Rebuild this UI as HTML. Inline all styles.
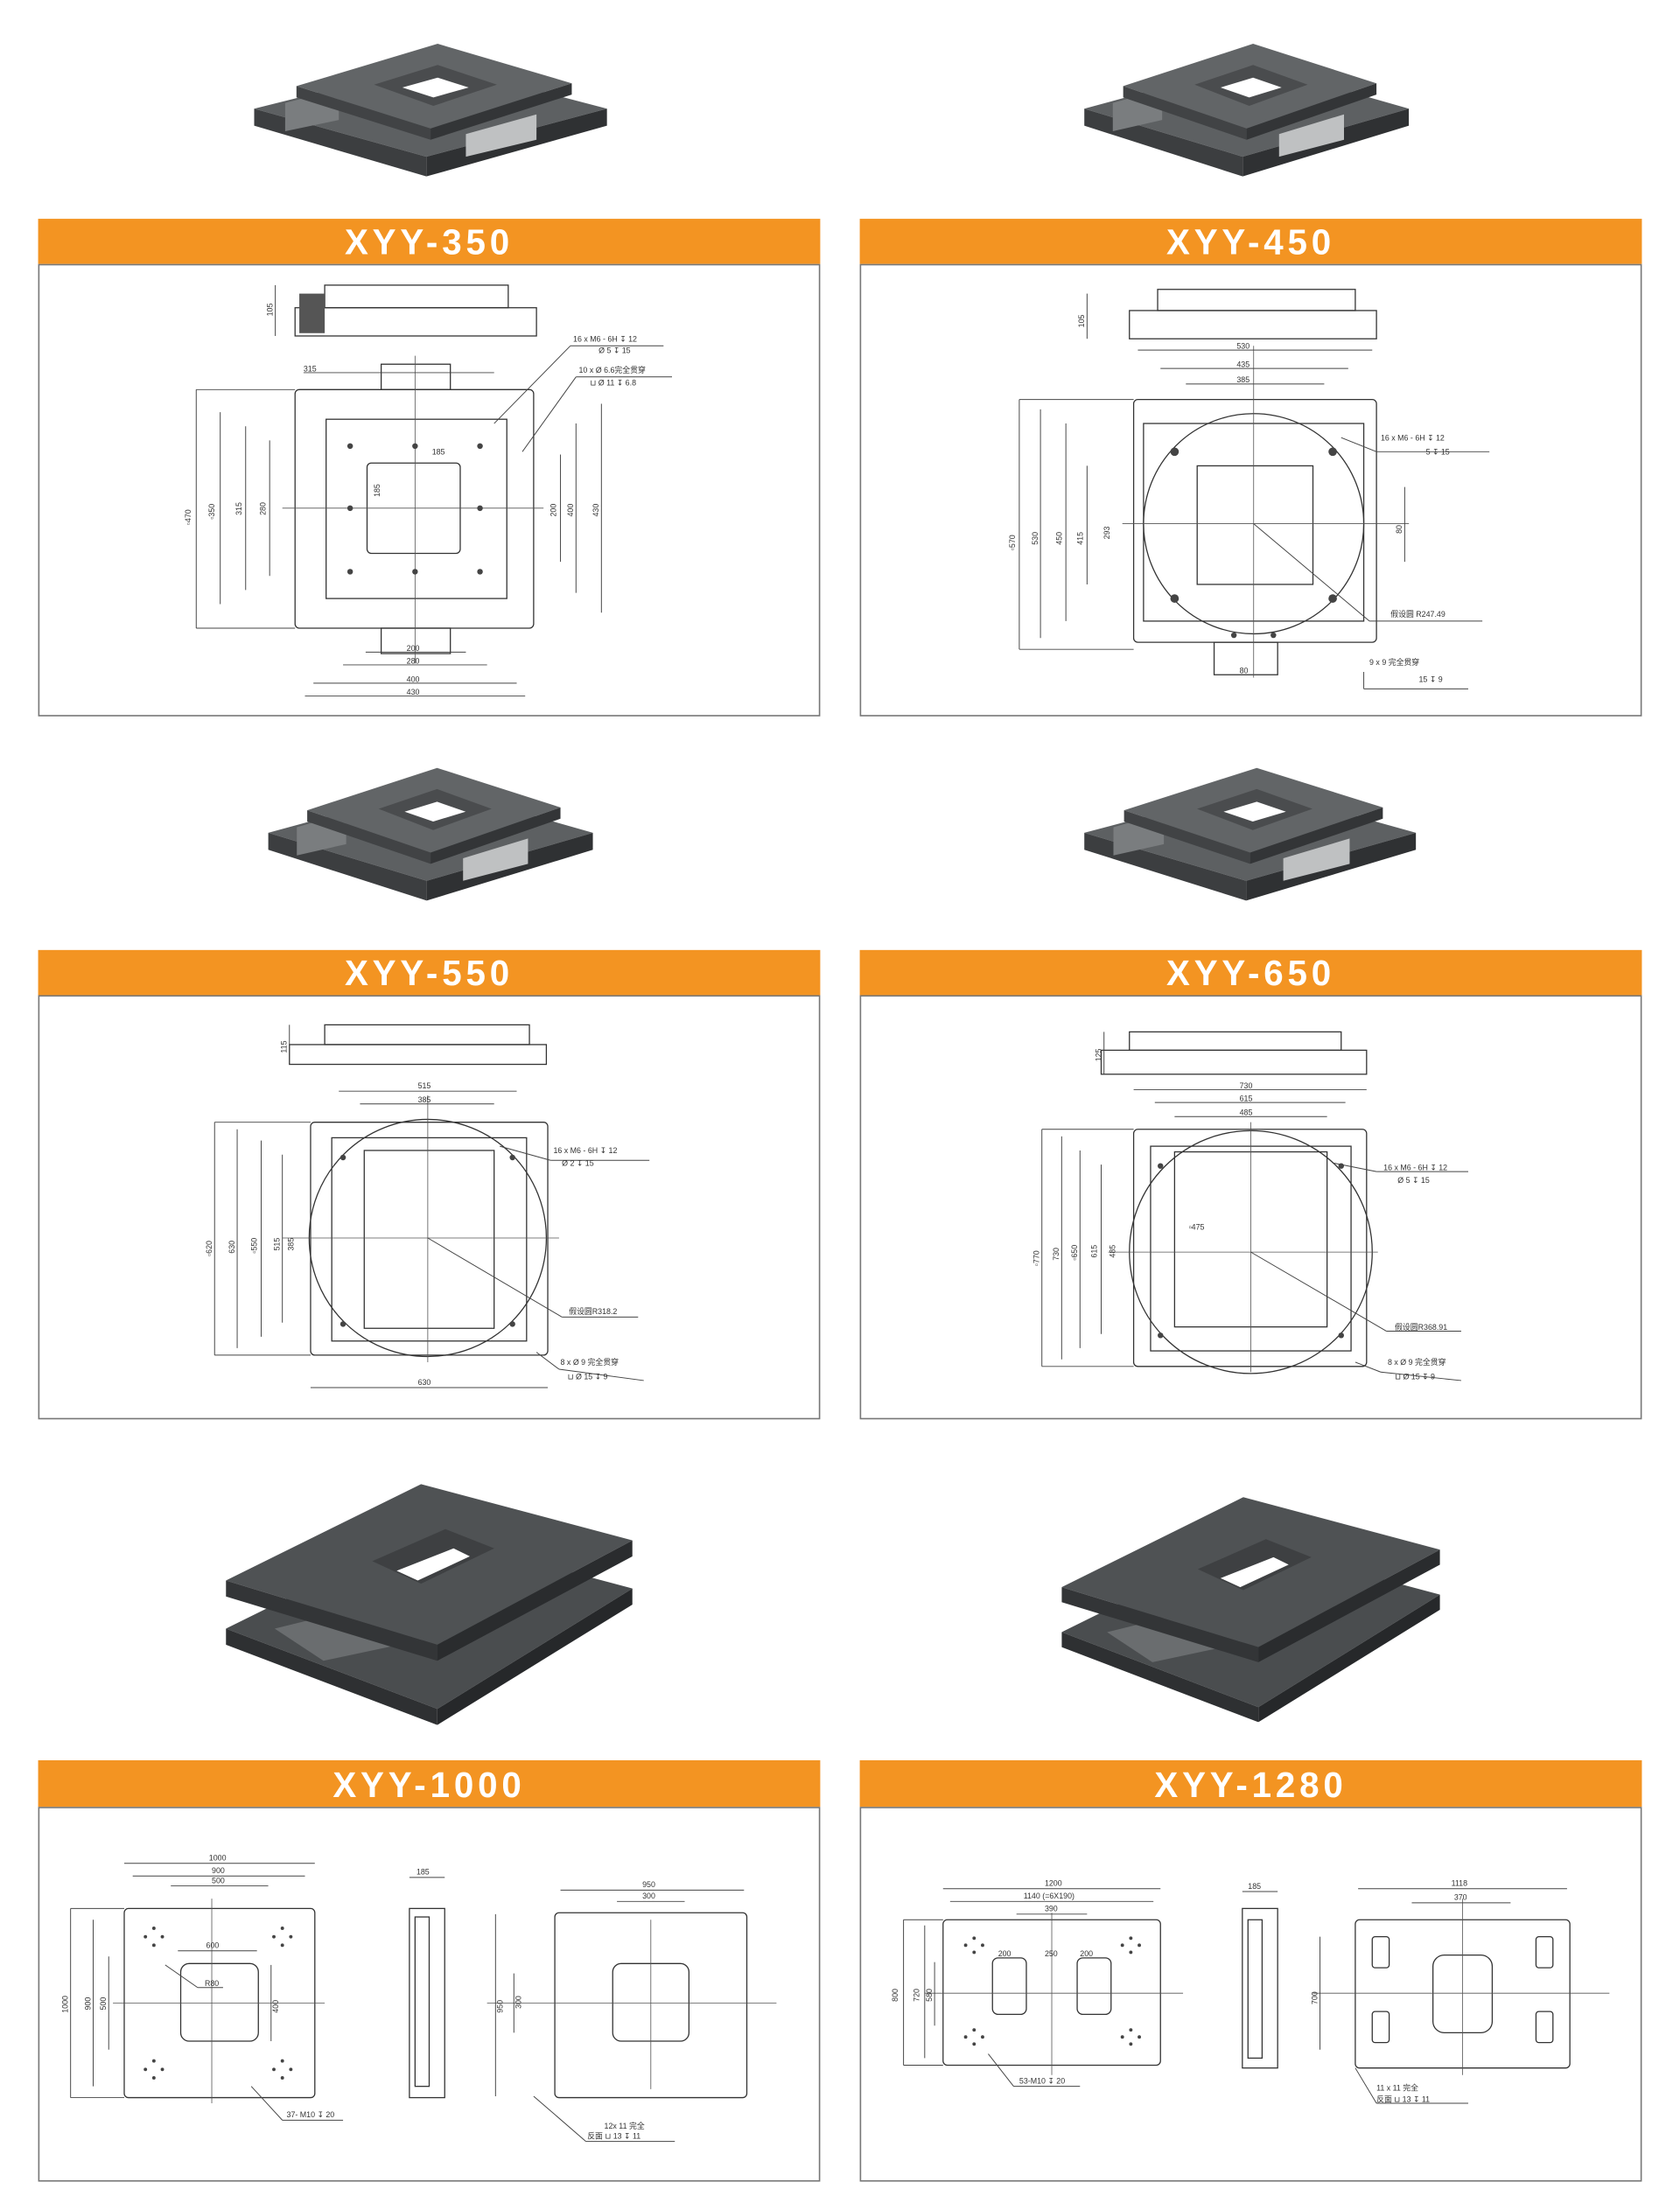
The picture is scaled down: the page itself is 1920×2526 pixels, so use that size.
<!DOCTYPE html>
<html><head><meta charset="utf-8"><style>
html,body{margin:0;padding:0;background:#fff}
svg{display:block}
text{font-family:"Liberation Sans","Noto Sans CJK SC",sans-serif}
.h{font-weight:bold;font-size:25px;fill:#fff;letter-spacing:3px;text-anchor:middle}
.t{font-size:5.5px;fill:#333}
.d{stroke:#444;stroke-width:0.6;fill:none}
.p{stroke:#333;stroke-width:0.8;fill:none}
.c{stroke:#555;stroke-width:0.5;fill:none}
</style></head><body>
<svg width="1920" height="2526" viewBox="0 0 1190 1565.6" xmlns="http://www.w3.org/2000/svg">
<defs>
<symbol id="prod" viewBox="0 0 250 120" preserveAspectRatio="none">
  <polygon points="0,62 128,30 250,62 122,96" fill="#5d6062"/>
  <polygon points="0,62 122,96 122,110 0,74" fill="#3c3e40"/>
  <polygon points="122,96 250,62 250,74 122,110" fill="#2f3133"/>
  <polygon points="22,58 60,48 60,70 22,78" fill="#7a7d7f"/>
  <polygon points="150,80 200,66 200,84 150,96" fill="#bfc1c2"/>
  <polygon points="30,46 130,16 225,44 125,76" fill="#626567"/>
  <polygon points="30,46 125,76 125,84 30,54" fill="#414345"/>
  <polygon points="125,76 225,44 225,52 125,84" fill="#333537"/>
  <polygon points="85,45 130,31 172,45 127,60" fill="#4a4c4e"/>
  <polygon points="105,47 130,40 152,47 127,54" fill="#ffffff"/>
</symbol>
<symbol id="prodb" viewBox="0 0 250 160" preserveAspectRatio="none">
  <polygon points="0,100 120,40 250,75 130,150" fill="#4a4d4f"/>
  <polygon points="0,100 130,150 130,160 0,110" fill="#2e3032"/>
  <polygon points="130,150 250,75 250,85 130,160" fill="#26282a"/>
  <polygon points="30,100 110,80 130,105 60,120" fill="#6a6d6f"/>
  <polygon points="0,70 120,10 250,45 130,110" fill="#4f5254"/>
  <polygon points="0,70 130,110 130,120 0,80" fill="#333537"/>
  <polygon points="130,110 250,45 250,55 130,120" fill="#2a2c2e"/>
  <polygon points="90,58 135,38 165,50 120,72" fill="#3e4042"/>
  <polygon points="105,64 140,50 150,55 118,70" fill="#ffffff"/>
</symbol>
</defs>

<!-- products -->
<use href="#prod" x="180" y="15" width="250" height="120"/>
<use href="#prod" x="768" y="15" width="230" height="120"/>
<use href="#prod" x="190" y="528" width="230" height="120"/>
<use href="#prod" x="768" y="528" width="235" height="120"/>
<use href="#prodb" x="160" y="1040" width="288" height="182"/>
<use href="#prodb" x="752" y="1050" width="268" height="170"/>

<!-- headers and boxes -->
<g fill="#f39422">
<rect x="27" y="155" width="554" height="32"/><rect x="609" y="155" width="554" height="32"/>
<rect x="27" y="673" width="554" height="32"/><rect x="609" y="673" width="554" height="32"/>
<rect x="27" y="1247" width="554" height="33"/><rect x="609" y="1247" width="554" height="33"/>
</g>
<text class="h" x="304" y="180">XYY-350</text><text class="h" x="886" y="180">XYY-450</text>
<text class="h" x="304" y="698">XYY-550</text><text class="h" x="886" y="698">XYY-650</text>
<text class="h" x="304" y="1273">XYY-1000</text><text class="h" x="886" y="1273">XYY-1280</text>
<g fill="none" stroke="#777" stroke-width="1">
<rect x="27.5" y="187.5" width="553" height="319.5"/><rect x="609.5" y="187.5" width="553" height="319.5"/>
<rect x="27.5" y="705.5" width="553" height="299.5"/><rect x="609.5" y="705.5" width="553" height="299.5"/>
<rect x="27.5" y="1280.5" width="553" height="264.5"/><rect x="609.5" y="1280.5" width="553" height="264.5"/>
</g>

<!-- XYY-350 drawing -->
<g>
<rect class="p" x="209" y="218" width="171" height="20"/><rect class="p" x="230" y="202" width="130" height="16"/>
<rect x="212" y="208" width="18" height="28" fill="#555"/><line class="d" x1="195" y1="202" x2="195" y2="238"/>
<text class="t" transform="translate(193,224) rotate(-90)">105</text>
<rect class="p" x="209" y="276" width="169" height="169" rx="3"/>
<rect class="p" x="231" y="297" width="128" height="127"/>
<rect class="p" x="260" y="328" width="66" height="64" rx="3"/>
<rect class="p" x="270" y="258" width="49" height="18"/><rect class="p" x="270" y="445" width="49" height="18"/>
<line class="c" x1="294" y1="252" x2="294" y2="470"/><line class="c" x1="200" y1="360" x2="385" y2="360"/>
<g class="d">
<line x1="139" y1="276" x2="139" y2="445"/><line x1="156" y1="292" x2="156" y2="428"/>
<line x1="174" y1="302" x2="174" y2="418"/><line x1="191" y1="312" x2="191" y2="408"/>
<line x1="139" y1="276" x2="209" y2="276"/><line x1="139" y1="445" x2="209" y2="445"/>
<line x1="397" y1="322" x2="397" y2="398"/><line x1="408" y1="300" x2="408" y2="420"/><line x1="426" y1="286" x2="426" y2="434"/>
<line x1="259" y1="462" x2="330" y2="462"/><line x1="243" y1="471" x2="345" y2="471"/>
<line x1="222" y1="484" x2="366" y2="484"/><line x1="216" y1="493" x2="372" y2="493"/>
<line x1="215" y1="264" x2="350" y2="264"/>
<line x1="350" y1="300" x2="404" y2="245"/><line x1="370" y1="320" x2="408" y2="267"/>
<line x1="404" y1="245" x2="470" y2="245"/><line x1="408" y1="267" x2="476" y2="267"/>
</g>
<g fill="#444"><circle cx="248" cy="316" r="2"/><circle cx="294" cy="316" r="2"/><circle cx="340" cy="316" r="2"/><circle cx="248" cy="360" r="2"/><circle cx="340" cy="360" r="2"/><circle cx="248" cy="405" r="2"/><circle cx="294" cy="405" r="2"/><circle cx="340" cy="405" r="2"/></g>
<text class="t" transform="translate(135,372) rotate(-90)">▫470</text><text class="t" transform="translate(152,368) rotate(-90)">▫350</text>
<text class="t" transform="translate(171,365) rotate(-90)">315</text><text class="t" transform="translate(188,365) rotate(-90)">280</text>
<text class="t" transform="translate(394,366) rotate(-90)">200</text><text class="t" transform="translate(406,366) rotate(-90)">400</text><text class="t" transform="translate(424,366) rotate(-90)">430</text>
<text class="t" transform="translate(269,352) rotate(-90)">185</text><text class="t" x="306" y="322">185</text>
<text class="t" x="215" y="263">315</text><text class="t" x="288" y="461">200</text><text class="t" x="288" y="470">280</text><text class="t" x="288" y="483">400</text><text class="t" x="288" y="492">430</text>
<text class="t" x="406" y="242">16 x M6 - 6H ↧ 12</text><text class="t" x="424" y="250">Ø 5 ↧ 15</text>
<text class="t" x="410" y="264">10 x Ø 6.6完全贯穿</text><text class="t" x="418" y="273">⊔ Ø 11 ↧ 6.8</text>
</g>

<!-- XYY-450 drawing -->
<g>
<rect class="p" x="800" y="220" width="175" height="20"/><rect class="p" x="820" y="205" width="140" height="15"/>
<line class="d" x1="770" y1="208" x2="770" y2="240"/><text class="t" transform="translate(768,232) rotate(-90)">105</text>
<rect class="p" x="803" y="283" width="172" height="172" rx="3"/>
<circle class="p" cx="888" cy="371" r="78"/>
<rect class="p" x="810" y="300" width="156" height="140"/>
<rect class="p" x="848" y="330" width="82" height="84"/>
<rect class="p" x="860" y="455" width="45" height="23"/>
<line class="c" x1="795" y1="371" x2="998" y2="371"/><line class="c" x1="888" y1="245" x2="888" y2="480"/>
<g class="d">
<line x1="722" y1="283" x2="722" y2="460"/><line x1="737" y1="290" x2="737" y2="452"/><line x1="755" y1="300" x2="755" y2="440"/><line x1="770" y1="330" x2="770" y2="414"/>
<line x1="722" y1="283" x2="803" y2="283"/><line x1="722" y1="460" x2="803" y2="460"/>
<line x1="806" y1="248" x2="972" y2="248"/><line x1="822" y1="261" x2="955" y2="261"/><line x1="840" y1="272" x2="938" y2="272"/>
<line x1="995" y1="345" x2="995" y2="398"/>
<line x1="888" y1="371" x2="970" y2="440"/><line x1="970" y1="440" x2="1050" y2="440"/>
<line x1="950" y1="310" x2="975" y2="320"/><line x1="975" y1="320" x2="1055" y2="320"/>
<line x1="966" y1="476" x2="966" y2="488"/><line x1="966" y1="488" x2="1040" y2="488"/>
</g>
<g fill="#444"><circle cx="832" cy="320" r="3"/><circle cx="944" cy="320" r="3"/><circle cx="832" cy="424" r="3"/><circle cx="944" cy="424" r="3"/><circle cx="874" cy="450" r="2"/><circle cx="902" cy="450" r="2"/></g>
<text class="t" transform="translate(719,390) rotate(-90)">▫570</text><text class="t" transform="translate(735,386) rotate(-90)">530</text>
<text class="t" transform="translate(752,386) rotate(-90)">450</text><text class="t" transform="translate(767,386) rotate(-90)">415</text>
<text class="t" transform="translate(786,382) rotate(-90)">293</text><text class="t" transform="translate(993,378) rotate(-90)">80</text>
<text class="t" x="876" y="247">530</text><text class="t" x="876" y="260">435</text><text class="t" x="876" y="271">385</text><text class="t" x="878" y="477">80</text>
<text class="t" x="978" y="312">16 x  M6 - 6H   ↧ 12</text><text class="t" x="1010" y="322">5 ↧ 15</text>
<text class="t" x="985" y="437">假设圆 R247.49</text>
<text class="t" x="970" y="471">9 x   9 完全贯穿</text><text class="t" x="1005" y="483">15 ↧ 9</text>
</g>

<!-- XYY-550 drawing -->
<g>
<rect class="p" x="205" y="740" width="182" height="14"/><rect class="p" x="230" y="726" width="145" height="14"/>
<line class="d" x1="205" y1="726" x2="205" y2="754"/><text class="t" transform="translate(203,746) rotate(-90)">115</text>
<rect class="p" x="220" y="795" width="168" height="165" rx="3"/>
<circle class="p" cx="303" cy="877" r="84"/>
<rect class="p" x="235" y="806" width="138" height="144"/>
<rect class="p" x="258" y="815" width="92" height="126"/>
<line class="c" x1="200" y1="877" x2="396" y2="877"/><line class="c" x1="303" y1="776" x2="303" y2="965"/>
<g class="d">
<line x1="152" y1="795" x2="152" y2="960"/><line x1="168" y1="800" x2="168" y2="955"/><line x1="185" y1="808" x2="185" y2="947"/><line x1="200" y1="818" x2="200" y2="937"/>
<line x1="152" y1="795" x2="220" y2="795"/><line x1="152" y1="960" x2="220" y2="960"/>
<line x1="240" y1="773" x2="366" y2="773"/><line x1="255" y1="782" x2="350" y2="782"/>
<line x1="220" y1="983" x2="388" y2="983"/>
<line x1="354" y1="812" x2="390" y2="822"/><line x1="390" y1="822" x2="460" y2="822"/>
<line x1="303" y1="877" x2="398" y2="933"/><line x1="398" y1="933" x2="452" y2="933"/>
<line x1="380" y1="958" x2="396" y2="970"/><line x1="396" y1="970" x2="456" y2="978"/>
</g>
<g fill="#444"><circle cx="243" cy="820" r="2"/><circle cx="363" cy="820" r="2"/><circle cx="243" cy="938" r="2"/><circle cx="363" cy="938" r="2"/></g>
<text class="t" transform="translate(150,890) rotate(-90)">▫620</text><text class="t" transform="translate(166,888) rotate(-90)">630</text>
<text class="t" transform="translate(182,888) rotate(-90)">▫550</text><text class="t" transform="translate(198,886) rotate(-90)">515</text><text class="t" transform="translate(208,886) rotate(-90)">385</text>
<text class="t" x="296" y="771">515</text><text class="t" x="296" y="781">385</text><text class="t" x="296" y="981">630</text>
<text class="t" x="392" y="817">16 x  M6 - 6H ↧ 12</text><text class="t" x="398" y="826">Ø 2 ↧ 15</text>
<text class="t" x="403" y="931">假设圆R318.2</text>
<text class="t" x="397" y="967">8 x  Ø 9 完全贯穿</text><text class="t" x="402" y="977">⊔ Ø 15 ↧ 9</text>
</g>

<!-- XYY-650 drawing -->
<g>
<rect class="p" x="780" y="744" width="188" height="17"/><rect class="p" x="800" y="731" width="150" height="13"/>
<line class="d" x1="782" y1="731" x2="782" y2="761"/><text class="t" transform="translate(780,752) rotate(-90)">125</text>
<rect class="p" x="803" y="800" width="165" height="168" rx="3"/>
<circle class="p" cx="886" cy="887" r="86"/>
<rect class="p" x="815" y="812" width="142" height="145"/>
<rect class="p" x="832" y="816" width="108" height="124"/>
<line class="c" x1="785" y1="887" x2="976" y2="887"/><line class="c" x1="886" y1="795" x2="886" y2="972"/>
<g class="d">
<line x1="738" y1="800" x2="738" y2="968"/><line x1="752" y1="805" x2="752" y2="963"/><line x1="765" y1="815" x2="765" y2="955"/><line x1="780" y1="825" x2="780" y2="945"/>
<line x1="738" y1="800" x2="803" y2="800"/><line x1="738" y1="968" x2="803" y2="968"/>
<line x1="803" y1="772" x2="968" y2="772"/><line x1="818" y1="781" x2="953" y2="781"/><line x1="832" y1="791" x2="940" y2="791"/>
<line x1="945" y1="824" x2="975" y2="830"/><line x1="975" y1="830" x2="1040" y2="830"/>
<line x1="886" y1="887" x2="982" y2="943"/><line x1="982" y1="943" x2="1035" y2="943"/>
<line x1="960" y1="965" x2="978" y2="972"/><line x1="978" y1="972" x2="1035" y2="978"/>
</g>
<g fill="#444"><circle cx="822" cy="826" r="2"/><circle cx="950" cy="826" r="2"/><circle cx="822" cy="946" r="2"/><circle cx="950" cy="946" r="2"/></g>
<text class="t" transform="translate(736,897) rotate(-90)">▫770</text><text class="t" transform="translate(750,893) rotate(-90)">730</text>
<text class="t" transform="translate(763,893) rotate(-90)">▫650</text><text class="t" transform="translate(777,891) rotate(-90)">615</text><text class="t" transform="translate(790,891) rotate(-90)">485</text>
<text class="t" x="842" y="871">▫475</text>
<text class="t" x="878" y="771">730</text><text class="t" x="878" y="780">615</text><text class="t" x="878" y="790">485</text>
<text class="t" x="980" y="829">16 x  M6 - 6H ↧ 12</text><text class="t" x="990" y="838">Ø 5 ↧ 15</text>
<text class="t" x="988" y="942">假设圆R368.91</text>
<text class="t" x="983" y="967">8 x  Ø 9 完全贯穿</text><text class="t" x="988" y="977">⊔ Ø 15 ↧ 9</text>
</g>

<!-- XYY-1000 drawing -->
<g>
<rect class="p" x="88" y="1352" width="135" height="134" rx="3"/>
<rect class="p" x="128" y="1391" width="55" height="55" rx="6"/>
<line class="c" x1="80" y1="1419" x2="230" y2="1419"/><line class="c" x1="150" y1="1345" x2="150" y2="1490"/>
<g fill="#444">
<circle cx="103" cy="1372" r="1.2"/><circle cx="109" cy="1366" r="1.2"/><circle cx="115" cy="1372" r="1.2"/><circle cx="109" cy="1378" r="1.2"/>
<circle cx="194" cy="1372" r="1.2"/><circle cx="200" cy="1366" r="1.2"/><circle cx="206" cy="1372" r="1.2"/><circle cx="200" cy="1378" r="1.2"/>
<circle cx="103" cy="1466" r="1.2"/><circle cx="109" cy="1460" r="1.2"/><circle cx="115" cy="1466" r="1.2"/><circle cx="109" cy="1472" r="1.2"/>
<circle cx="194" cy="1466" r="1.2"/><circle cx="200" cy="1460" r="1.2"/><circle cx="206" cy="1466" r="1.2"/><circle cx="200" cy="1472" r="1.2"/>
</g>
<g class="d">
<line x1="88" y1="1320" x2="223" y2="1320"/><line x1="94" y1="1329" x2="216" y2="1329"/><line x1="121" y1="1336" x2="190" y2="1336"/><line x1="126" y1="1382" x2="182" y2="1382"/>
<line x1="50" y1="1352" x2="50" y2="1486"/><line x1="66" y1="1360" x2="66" y2="1478"/><line x1="77" y1="1386" x2="77" y2="1452"/><line x1="192" y1="1392" x2="192" y2="1446"/>
<line x1="50" y1="1352" x2="88" y2="1352"/><line x1="50" y1="1486" x2="88" y2="1486"/>
<line x1="178" y1="1478" x2="200" y2="1502"/><line x1="200" y1="1502" x2="243" y2="1502"/>
<line x1="117" y1="1392" x2="140" y2="1408"/><line x1="140" y1="1408" x2="158" y2="1408"/>
</g>
<text class="t" x="148" y="1318">1000</text><text class="t" x="150" y="1327">900</text><text class="t" x="150" y="1334">500</text><text class="t" x="146" y="1380">600</text><text class="t" x="145" y="1407">R80</text>
<text class="t" transform="translate(48,1426) rotate(-90)">1000</text><text class="t" transform="translate(64,1424) rotate(-90)">900</text><text class="t" transform="translate(75,1424) rotate(-90)">500</text><text class="t" transform="translate(197,1426) rotate(-90)">400</text>
<text class="t" x="203" y="1500">37- M10  ↧ 20</text>
<rect class="p" x="290" y="1352" width="25" height="134"/><rect class="p" x="294" y="1358" width="10" height="120"/>
<line class="d" x1="290" y1="1330" x2="315" y2="1330"/><text class="t" x="295" y="1328">185</text>
<rect class="p" x="393" y="1355" width="136" height="131" rx="3"/>
<rect class="p" x="434" y="1391" width="54" height="55" rx="6"/>
<line class="c" x1="345" y1="1419" x2="550" y2="1419"/><line class="c" x1="461" y1="1360" x2="461" y2="1480"/>
<g class="d">
<line x1="397" y1="1339" x2="527" y2="1339"/><line x1="437" y1="1347" x2="485" y2="1347"/>
<line x1="351" y1="1356" x2="351" y2="1485"/><line x1="364" y1="1398" x2="364" y2="1440"/>
<line x1="378" y1="1485" x2="415" y2="1517"/><line x1="415" y1="1517" x2="478" y2="1517"/>
</g>
<text class="t" x="455" y="1337">950</text><text class="t" x="455" y="1345">300</text>
<text class="t" transform="translate(356,1426) rotate(-90)">950</text><text class="t" transform="translate(369,1423) rotate(-90)">300</text>
<text class="t" x="428" y="1508">12x    11 完全</text><text class="t" x="416" y="1515">反面 ⊔    13  ↧ 11</text>
</g>

<!-- XYY-1280 drawing -->
<g>
<rect class="p" x="668" y="1360" width="154" height="103" rx="3"/>
<rect class="p" x="703" y="1387" width="24" height="40" rx="4"/><rect class="p" x="763" y="1387" width="24" height="40" rx="4"/>
<line class="c" x1="655" y1="1412" x2="838" y2="1412"/><line class="c" x1="745" y1="1355" x2="745" y2="1470"/>
<g fill="#444">
<circle cx="684" cy="1378" r="1.2"/><circle cx="690" cy="1373" r="1.2"/><circle cx="696" cy="1378" r="1.2"/><circle cx="690" cy="1383" r="1.2"/>
<circle cx="795" cy="1378" r="1.2"/><circle cx="801" cy="1373" r="1.2"/><circle cx="807" cy="1378" r="1.2"/><circle cx="801" cy="1383" r="1.2"/>
<circle cx="684" cy="1443" r="1.2"/><circle cx="690" cy="1438" r="1.2"/><circle cx="696" cy="1443" r="1.2"/><circle cx="690" cy="1448" r="1.2"/>
<circle cx="795" cy="1443" r="1.2"/><circle cx="801" cy="1438" r="1.2"/><circle cx="807" cy="1443" r="1.2"/><circle cx="801" cy="1448" r="1.2"/>
</g>
<g class="d">
<line x1="668" y1="1338" x2="822" y2="1338"/><line x1="673" y1="1347" x2="817" y2="1347"/><line x1="720" y1="1356" x2="770" y2="1356"/>
<line x1="640" y1="1360" x2="640" y2="1463"/><line x1="655" y1="1364" x2="655" y2="1458"/><line x1="662" y1="1390" x2="662" y2="1435"/>
<line x1="640" y1="1360" x2="668" y2="1360"/><line x1="640" y1="1463" x2="668" y2="1463"/>
<line x1="700" y1="1455" x2="718" y2="1478"/><line x1="718" y1="1478" x2="765" y2="1478"/>
</g>
<text class="t" x="740" y="1336">1200</text><text class="t" x="725" y="1345">1140  (=6X190)</text><text class="t" x="740" y="1354">390</text>
<text class="t" x="707" y="1386">200</text><text class="t" x="740" y="1386">250</text><text class="t" x="765" y="1386">200</text>
<text class="t" transform="translate(636,1418) rotate(-90)">800</text><text class="t" transform="translate(651,1418) rotate(-90)">720</text><text class="t" transform="translate(660,1418) rotate(-90)">580</text>
<text class="t" x="722" y="1476">53-M10  ↧ 20</text>
<rect class="p" x="880" y="1352" width="25" height="113"/><rect class="p" x="884" y="1360" width="10" height="98"/>
<line class="d" x1="880" y1="1340" x2="905" y2="1340"/><text class="t" x="884" y="1338">185</text>
<rect class="p" x="960" y="1360" width="152" height="105" rx="3"/>
<rect class="p" x="1015" y="1385" width="42" height="55" rx="8"/>
<rect class="p" x="972" y="1372" width="12" height="22" rx="2"/><rect class="p" x="1088" y="1372" width="12" height="22" rx="2"/>
<rect class="p" x="972" y="1425" width="12" height="22" rx="2"/><rect class="p" x="1088" y="1425" width="12" height="22" rx="2"/>
<line class="c" x1="930" y1="1412" x2="1140" y2="1412"/><line class="c" x1="1036" y1="1345" x2="1036" y2="1470"/>
<g class="d">
<line x1="962" y1="1338" x2="1110" y2="1338"/><line x1="1000" y1="1348" x2="1070" y2="1348"/>
<line x1="935" y1="1372" x2="935" y2="1452"/>
<line x1="960" y1="1465" x2="975" y2="1490"/><line x1="975" y1="1490" x2="1040" y2="1490"/>
</g>
<text class="t" x="1028" y="1336">1118</text><text class="t" x="1030" y="1346">370</text>
<text class="t" transform="translate(933,1420) rotate(-90)">700</text>
<text class="t" x="975" y="1481">11 x    11 完全</text><text class="t" x="975" y="1489">反面 ⊔    13  ↧ 11</text>
</g>
</svg>
</body></html>
